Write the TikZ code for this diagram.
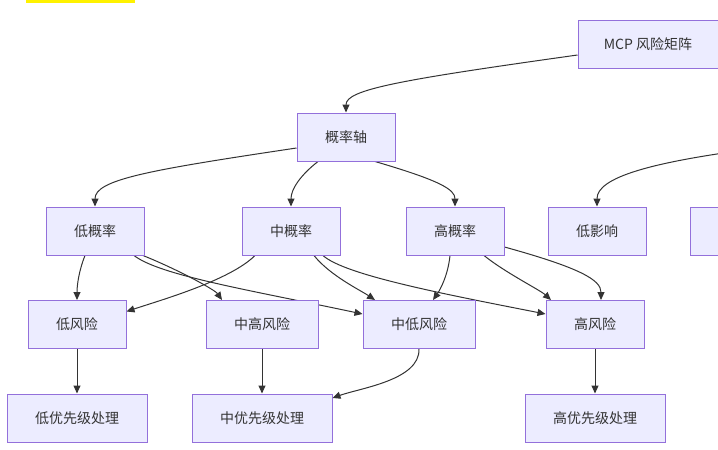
\documentclass[tikz,border=0pt]{standalone}
\usepackage{fontspec}
\setmainfont{Noto Sans CJK SC}
\usetikzlibrary{arrows.meta,calc,backgrounds}
\definecolor{boxfill}{HTML}{ECECFF}
\definecolor{boxline}{HTML}{9370DB}
\definecolor{edgegray}{HTML}{333333}

\begin{document}
\begin{tikzpicture}[x=1pt,y=-1pt,
  box/.style={draw=boxline,fill=boxfill,line width=1pt,text=edgegray,minimum width=98pt,minimum height=48pt,inner sep=0pt,font=\fontsize{14}{16}\selectfont},
  flow/.style={draw=edgegray,line width=1pt,-{Triangle[length=8pt,width=7pt]}}]
\useasboundingbox (0,0) rectangle (718,450);
\fill[yellow] (26,0) rectangle (135,3);

\node[box,minimum width=140pt] (mcp) at (648,44) {MCP 风险矩阵};
\node[box] (prob) at (346,137) {概率轴};
\node[box] (lowp) at (95,231) {低概率};
\node[box] (midp) at (291,231) {中概率};
\node[box] (highp) at (455,231) {高概率};
\node[box] (lowi) at (597,231) {低影响};
\node[box] (nexti) at (739,231) {};
\node[box] (lowr) at (77,324.5) {低风险};
\node[box,minimum width=112pt] (mhr) at (262,324.5) {中高风险};
\node[box,minimum width=112pt] (mlr) at (419,324.5) {中低风险};
\node[box] (highr) at (595,324.5) {高风险};
\node[box,minimum width=140pt] (lowa) at (77,418) {低优先级处理};
\node[box,minimum width=140pt] (mida) at (262,418) {中优先级处理};
\node[box,minimum width=140pt] (higha) at (595,418) {高优先级处理};
\coordinate (impact) at (760,148);

\begin{scope}[on background layer]
\draw[flow] ($(mcp.west)+(0,11)$) .. controls +(-178,25) and +(0,-23) .. (prob.north);
\draw[flow] (impact) .. controls +(-110,14) and +(0,-29) .. (lowi.north);
\draw[flow] ($(prob.west)+(0,11)$) .. controls +(-147,22) and +(0,-27) .. (lowp.north);
\draw[flow] ($(prob.south)+(-28,0)$) .. controls +(-18,14) and +(0,-17) .. (midp.north);
\draw[flow] ($(prob.south)+(29,0)$) .. controls +(65,19) and +(0,-17) .. (highp.north);

\draw[flow] ($(lowp.south)+(-10,0)$) .. controls +(-6,15) and +(0,-15) .. (lowr.north);
\draw[flow] ($(lowp.south)+(48,0)$) .. controls +(37,15) and +(-7,-10) .. ($(mhr.north)+(-40,0)$);
\draw[flow] ($(lowp.south)+(39,0)$) .. controls +(26,20) and +(-113,-24) .. ($(mlr.west)+(0,-10.5)$);
\draw[flow] ($(midp.south)+(-36,0)$) .. controls +(-25,25) and +(33,-11) .. ($(lowr.east)+(0,-13)$);
\draw[flow] ($(midp.south)+(23,0)$) .. controls +(16,20) and +(-15,-10) .. ($(mlr.north)+(-44,0)$);
\draw[flow] ($(midp.south)+(32,0)$) .. controls +(22,20) and +(-96,-19) .. ($(highr.west)+(0,-10.5)$);
\draw[flow] ($(highp.south)+(-5,0)$) .. controls +(-2,20) and +(7,-10) .. ($(mlr.north)+(14,0)$);
\draw[flow] ($(highp.south)+(29,0)$) .. controls +(21,17) and +(-11,-10) .. ($(highr.north)+(-44,0)$);
\draw[flow] ($(highp.east)+(0,16)$) .. controls +(76,21) and +(0,-20) .. ($(highr.north)+(6,0)$);

\draw[flow] (lowr) -- (lowa);
\draw[flow] (mhr) -- (mida);
\draw[flow] (mlr.south) .. controls +(1,31) and +(28,-10) .. ($(mida.east)+(0,-20)$);
\draw[flow] (highr) -- (higha);
\end{scope}
\end{tikzpicture}
\end{document}
